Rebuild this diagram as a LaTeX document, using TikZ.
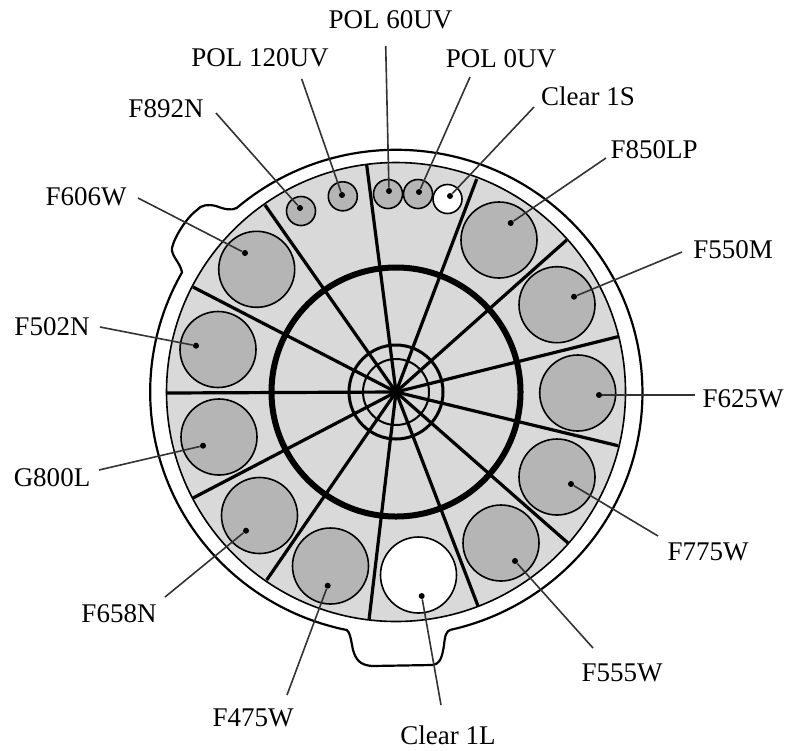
\documentclass[tikz,border=0pt]{standalone}
\usepackage{fontspec}
\setmainfont{Liberation Serif}
\usetikzlibrary{positioning}
\tikzset{
  wheel/.style={draw,circle,inner sep=0pt,fill=black!15,minimum size=229.5pt,line width=0.8pt},
  filt/.style={draw,circle,inner sep=0pt,fill=black!29,minimum size=38pt,line width=0.8pt},
  polfilt/.style={draw,circle,inner sep=0pt,fill=black!29,minimum size=14.5pt,line width=0.8pt},
  clearfilt/.style={draw,circle,inner sep=0pt,fill=white,line width=0.8pt},
  ring/.style={draw,circle,inner sep=0pt},
  spoke/.style={line width=1.6pt},
  leader/.style={line width=0.8pt,draw=black!80},
  tipdot/.style={circle,fill=black,inner sep=0pt,minimum size=3pt},
  lbl/.style={inner sep=0pt}
}
\begin{document}
\begin{tikzpicture}[x=0.5pt,y=-0.5pt,font=\fontsize{13.5}{15}\selectfont]
\useasboundingbox (0,0) rectangle (785,750);
% housing with its two lugs
\draw[line width=1.1pt,fill=white] (236.7,208) arc[start angle=130.5,end angle=-77.3,x radius=123pt,y radius=121.5pt]
  .. controls (446,631) and (445,636) .. (444,645) .. controls (442,658) and (440,664) .. (432,665) -- (372,666)
  .. controls (360,665) and (356,660) .. (353,650) .. controls (351,640) and (350,632) .. (346.7,630)
  arc[start angle=258.4,end angle=150.5,x radius=123pt,y radius=121.5pt]
  .. controls (180,262) and (171,256) .. (172,248) .. controls (174,238) and (186,218) .. (197,210)
  .. controls (201,205) and (208,204) .. (216,206) .. controls (224,209) and (231,211) .. (236.7,208) -- cycle;
\node[wheel] (wheel) at (396,392) {};
\coordinate (hub) at (396,392);
% spokes
\draw[spoke] (hub)--(366.7,165); \draw[spoke] (hub)--(476.7,179);
\draw[spoke] (hub)--(566.7,240); \draw[spoke] (hub)--(618,336.7);
\draw[spoke] (hub)--(618,445.7); \draw[spoke] (hub)--(568,543);
\draw[spoke] (hub)--(478,606);   \draw[spoke] (hub)--(369,620);
\draw[spoke] (hub)--(266.7,580); \draw[spoke] (hub)--(193,498);
\draw[spoke] (hub)--(166,393);   \draw[spoke] (hub)--(193,287);
\draw[spoke] (hub)--(265,205);
% rings round the hub
\node[ring,minimum size=124.5pt,line width=3pt] (bigring) at (hub) {};
\node[ring,minimum size=47pt,line width=1.5pt] (midring) at (hub) {};
\node[ring,minimum size=33pt,line width=1pt] (smallring) at (hub) {};
% filters
\node[filt] (f606w) at (256.7,269.3) {};
\node[filt] (f502n) at (218,349.5) {};
\node[filt] (g800l) at (219,437) {};
\node[filt] (f658n) at (259.5,515.5) {};
\node[filt] (f475w) at (330.5,566) {};
\node[clearfilt,minimum size=38pt] (clearl) at (418.5,575) {};
\node[filt] (f555w) at (501,543) {};
\node[filt] (f775w) at (557,477) {};
\node[filt] (f625w) at (577.7,393) {};
\node[filt] (f550m) at (557,304.7) {};
\node[filt] (f850lp) at (499,240) {};
\node[polfilt] (f892n) at (301,211) {};
\node[polfilt] (pol120) at (342.8,196.3) {};
\node[polfilt] (pol60) at (388,194) {};
\node[polfilt] (pol0) at (418,194) {};
\node[clearfilt,minimum size=14.5pt] (clears) at (447.5,199) {};
% labels
\node[lbl] (t60) at (390.5,20) {POL 60UV};
\node[lbl] (t120) at (260,58) {POL 120UV};
\node[lbl] (t0) at (501,59) {POL 0UV};
\node[lbl] (ts) at (588,96) {Clear 1S};
\node[lbl] (t892) at (166,109) {F892N};
\node[lbl] (t606) at (86,197) {F606W};
\node[lbl] (t850) at (654,150) {F850LP};
\node[lbl] (t550) at (733,250) {F550M};
\node[lbl] (t502) at (52,327) {F502N};
\node[lbl] (t625) at (743,399) {F625W};
\node[lbl] (t800) at (52,478) {G800L};
\node[lbl] (t775) at (708,552) {F775W};
\node[lbl] (t658) at (119,614) {F658N};
\node[lbl] (t475) at (253,718) {F475W};
\node[lbl] (tl) at (448,735) {Clear 1L};
\node[lbl] (t555) at (622,673) {F555W};
% free ends of the leaders
\coordinate (a60) at (385.7,46);   \coordinate (a120) at (301.7,79);
\coordinate (a0) at (470,77);      \coordinate (as) at (534,107);
\coordinate (a892) at (216,113);   \coordinate (a606) at (138,198);
\coordinate (a850) at (606,158);   \coordinate (a550) at (682,252);
\coordinate (a502) at (100,327);   \coordinate (a625) at (695,395);
\coordinate (a800) at (99,470);    \coordinate (a775) at (658,536);
\coordinate (a658) at (165,597);   \coordinate (a475) at (287,695);
\coordinate (al) at (441,705);     \coordinate (a555) at (593,648);
% dots on the filters
\node[tipdot] (d60) at (389,191) {};    \node[tipdot] (d120) at (342,195) {};
\node[tipdot] (d0) at (419,192) {};     \node[tipdot] (ds) at (450,196) {};
\node[tipdot] (d892) at (300,208) {};   \node[tipdot] (d606) at (245,253) {};
\node[tipdot] (d850) at (510.7,223) {}; \node[tipdot] (d550) at (574,296.7) {};
\node[tipdot] (d502) at (196,345.7) {}; \node[tipdot] (d625) at (599,395) {};
\node[tipdot] (d800) at (203,445.7) {}; \node[tipdot] (d775) at (571,484) {};
\node[tipdot] (d658) at (246,530.7) {}; \node[tipdot] (d475) at (327.7,585.7) {};
\node[tipdot] (dl) at (421.7,596) {};   \node[tipdot] (d555) at (515,561) {};
\draw[leader] (a60)--(d60);   \draw[leader] (a120)--(d120);
\draw[leader] (a0)--(d0);     \draw[leader] (as)--(ds);
\draw[leader] (a892)--(d892); \draw[leader] (a606)--(d606);
\draw[leader] (a850)--(d850); \draw[leader] (a550)--(d550);
\draw[leader] (a502)--(d502); \draw[leader] (a625)--(d625);
\draw[leader] (a800)--(d800); \draw[leader] (a775)--(d775);
\draw[leader] (a658)--(d658); \draw[leader] (a475)--(d475);
\draw[leader] (al)--(dl);     \draw[leader] (a555)--(d555);
\end{tikzpicture}
\end{document}
